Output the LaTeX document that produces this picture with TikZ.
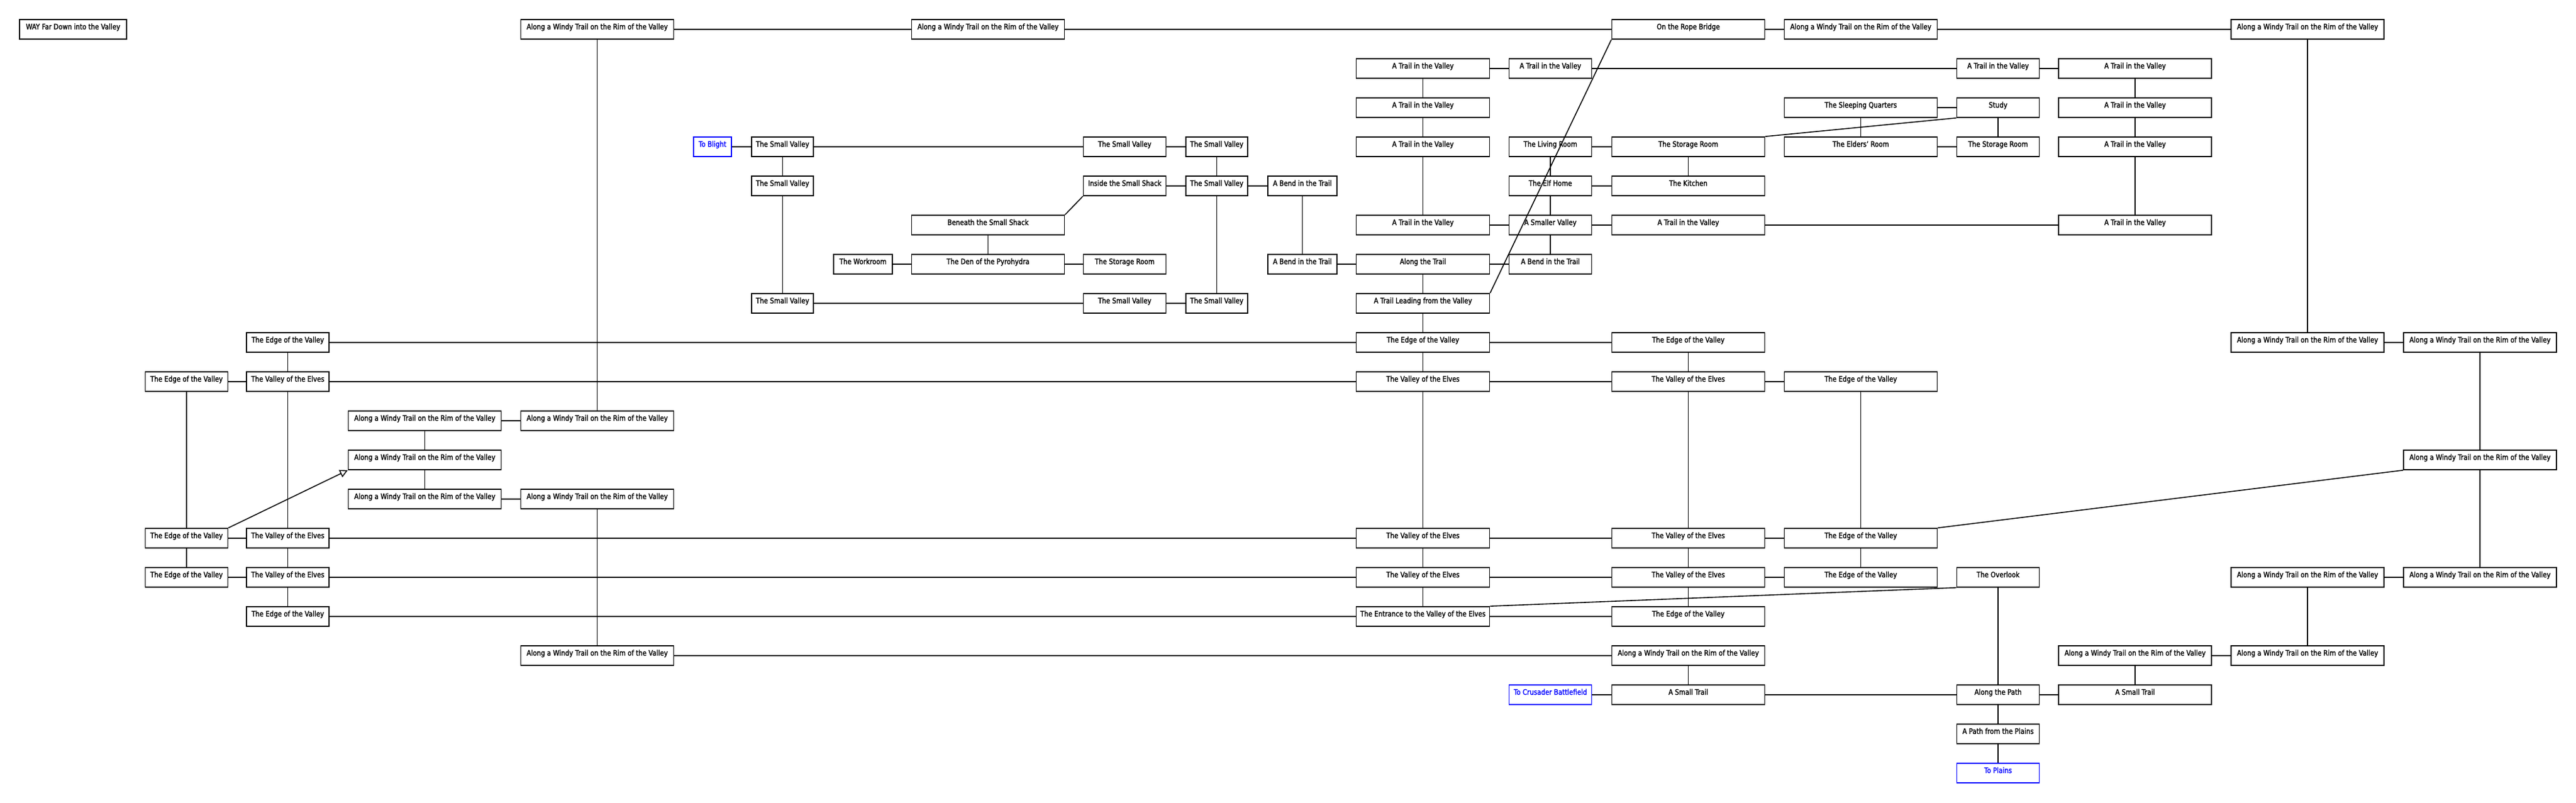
\documentclass[tikz,border=0pt]{standalone}
\usepackage{fontspec}
\setmainfont{DejaVu Sans}[FakeStretch=0.85, FakeBold=1.6, UprightFeatures={FakeBold=1.6}]
\usetikzlibrary{arrows.meta}

\begin{document}
\begin{tikzpicture}[x=1pt, y=-64pt, line width=1.6pt]
  \tikzset{ room/.style={draw, line width=1.7pt, inner sep=0pt, text height=16pt, text depth=16pt, font=\fontsize{12.4}{14}\selectfont},
    exit/.style={room, draw=blue, text=blue},
    w250/.style={room, minimum width=250pt},
    w218/.style={room, minimum width=218pt},
    w135/.style={room, minimum width=135pt},
    w101/.style={room, minimum width=101pt},
  }
  \useasboundingbox (0,-0.75) rectangle (4212,19.75);

  % row 0
  \node[room, minimum width=175pt] (way) at (119.5,0) {WAY Far Down into the Valley};
  \node[w250] (rimA) at (976.5,0) {Along a Windy Trail on the Rim of the Valley};
  \node[w250] (rimB) at (1615.5,0) {Along a Windy Trail on the Rim of the Valley};
  \node[w250] (rope) at (2760.5,0) {On the Rope Bridge};
  \node[w250] (rimC) at (3042.5,0) {Along a Windy Trail on the Rim of the Valley};
  \node[w250] (rimD) at (3773,0) {Along a Windy Trail on the Rim of the Valley};

  % rows 1 and 2
  \node[w218] (tP1) at (2326.6,1) {A Trail in the Valley};
  \node[w135] (tQ1) at (2535,1) {A Trail in the Valley};
  \node[w135] (tT1) at (3267,1) {A Trail in the Valley};
  \node[w250] (tU1) at (3491,1) {A Trail in the Valley};
  \node[w218] (tP2) at (2326.6,2) {A Trail in the Valley};
  \node[w250] (sleep) at (3042.5,2) {The Sleeping Quarters};
  \node[w135] (study) at (3267,2) {Study};
  \node[w250] (tU2) at (3491,2) {A Trail in the Valley};

  % row 3
  \node[exit, minimum width=62pt] (blight) at (1165,3) {To Blight};
  \node[w101] (svA) at (1279.5,3) {The Small Valley};
  \node[w135] (svB) at (1839,3) {The Small Valley};
  \node[w101] (svC) at (1989.5,3) {The Small Valley};
  \node[w218] (tP3) at (2326.6,3) {A Trail in the Valley};
  \node[w135] (living) at (2535,3) {The Living Room};
  \node[w250] (storeR) at (2760.5,3) {The Storage Room};
  \node[w250] (elders) at (3042.5,3) {The Elders' Room};
  \node[w135] (storeT) at (3267,3) {The Storage Room};
  \node[w250] (tU3) at (3491,3) {A Trail in the Valley};

  % row 4
  \node[w101] (svA4) at (1279.5,4) {The Small Valley};
  \node[w135] (shack) at (1839,4) {Inside the Small Shack};
  \node[w101] (svC4) at (1989.5,4) {The Small Valley};
  \node[room, minimum width=113pt] (bend4) at (2129.5,4) {A Bend in the Trail};
  \node[w135] (elfhome) at (2535,4) {The Elf Home};
  \node[w250] (kitchen) at (2760.5,4) {The Kitchen};

  % row 5
  \node[w250] (beneath) at (1615.5,5) {Beneath the Small Shack};
  \node[w218] (tP5) at (2326.6,5) {A Trail in the Valley};
  \node[w135] (smaller) at (2535,5) {A Smaller Valley};
  \node[w250] (tR5) at (2760.5,5) {A Trail in the Valley};
  \node[w250] (tU5) at (3491,5) {A Trail in the Valley};

  % row 6
  \node[room, minimum width=96pt] (work) at (1411,6) {The Workroom};
  \node[w250] (den) at (1615.5,6) {The Den of the Pyrohydra};
  \node[w135] (storeN) at (1839,6) {The Storage Room};
  \node[room, minimum width=113pt] (bend6) at (2129.5,6) {A Bend in the Trail};
  \node[w218] (along) at (2326.6,6) {Along the Trail};
  \node[w135] (bendQ) at (2535,6) {A Bend in the Trail};

  % row 7
  \node[w101] (svA7) at (1279.5,7) {The Small Valley};
  \node[w135] (svB7) at (1839,7) {The Small Valley};
  \node[w101] (svC7) at (1989.5,7) {The Small Valley};
  \node[w218] (leading) at (2326.6,7) {A Trail Leading from the Valley};

  % rows 8 and 9
  \node[w135] (edgeE8) at (470.5,8) {The Edge of the Valley};
  \node[w218] (edgeP8) at (2326.6,8) {The Edge of the Valley};
  \node[w250] (edgeR8) at (2760.5,8) {The Edge of the Valley};
  \node[w250] (rimV8) at (3773,8) {Along a Windy Trail on the Rim of the Valley};
  \node[w250] (rimW8) at (4055,8) {Along a Windy Trail on the Rim of the Valley};
  \node[w135] (edgeL9) at (305,9) {The Edge of the Valley};
  \node[w135] (elvesE9) at (470.5,9) {The Valley of the Elves};
  \node[w218] (elvesP9) at (2326.6,9) {The Valley of the Elves};
  \node[w250] (elvesR9) at (2760.5,9) {The Valley of the Elves};
  \node[w250] (edgeS9) at (3042.5,9) {The Edge of the Valley};

  % rows 10 to 12
  \node[w250] (rim1) at (694.5,10) {Along a Windy Trail on the Rim of the Valley};
  \node[w250] (rim2) at (976.5,10) {Along a Windy Trail on the Rim of the Valley};
  \node[w250] (rim3) at (694.5,11) {Along a Windy Trail on the Rim of the Valley};
  \node[w250] (rimW11) at (4055,11) {Along a Windy Trail on the Rim of the Valley};
  \node[w250] (rim4) at (694.5,12) {Along a Windy Trail on the Rim of the Valley};
  \node[w250] (rim5) at (976.5,12) {Along a Windy Trail on the Rim of the Valley};

  % rows 13 to 15
  \node[w135] (edgeL13) at (305,13) {The Edge of the Valley};
  \node[w135] (elvesE13) at (470.5,13) {The Valley of the Elves};
  \node[w218] (elvesP13) at (2326.6,13) {The Valley of the Elves};
  \node[w250] (elvesR13) at (2760.5,13) {The Valley of the Elves};
  \node[w250] (edgeS13) at (3042.5,13) {The Edge of the Valley};
  \node[w135] (edgeL14) at (305,14) {The Edge of the Valley};
  \node[w135] (elvesE14) at (470.5,14) {The Valley of the Elves};
  \node[w218] (elvesP14) at (2326.6,14) {The Valley of the Elves};
  \node[w250] (elvesR14) at (2760.5,14) {The Valley of the Elves};
  \node[w250] (edgeS14) at (3042.5,14) {The Edge of the Valley};
  \node[w135] (overlook) at (3267,14) {The Overlook};
  \node[w250] (rimV14) at (3773,14) {Along a Windy Trail on the Rim of the Valley};
  \node[w250] (rimW14) at (4055,14) {Along a Windy Trail on the Rim of the Valley};
  \node[w135] (edgeE15) at (470.5,15) {The Edge of the Valley};
  \node[w218] (entrance) at (2326.6,15) {The Entrance to the Valley of the Elves};
  \node[w250] (edgeR15) at (2760.5,15) {The Edge of the Valley};

  % rows 16 to 19
  \node[w250] (rim6) at (976.5,16) {Along a Windy Trail on the Rim of the Valley};
  \node[w250] (rimR16) at (2760.5,16) {Along a Windy Trail on the Rim of the Valley};
  \node[w250] (rimU16) at (3491,16) {Along a Windy Trail on the Rim of the Valley};
  \node[w250] (rimV16) at (3773,16) {Along a Windy Trail on the Rim of the Valley};
  \node[exit, minimum width=135pt] (crusader) at (2535,17) {To Crusader Battlefield};
  \node[w250] (smallR) at (2760.5,17) {A Small Trail};
  \node[w135] (path) at (3267,17) {Along the Path};
  \node[w250] (smallU) at (3491,17) {A Small Trail};
  \node[w135] (plainsPath) at (3267,18) {A Path from the Plains};
  \node[exit, minimum width=135pt] (plains) at (3267,19) {To Plains};

  % the trails along the top
  \draw (rimA) -- (rimB) -- (rope) -- (rimC) -- (rimD);
  \draw (tP1) -- (tQ1) -- (tT1) -- (tU1);
  \draw (tP1) -- (tP2) -- (tP3) -- (tP5);
  \draw (tU1) -- (tU2) -- (tU3) -- (tU5);
  \draw (sleep) -- (study) -- (storeT) -- (elders) -- (sleep);
  \draw (living) -- (storeR) -- (kitchen) -- (elfhome) -- (living);
  \draw (elfhome) -- (smaller) -- (bendQ);
  \draw (tP5) -- (smaller) -- (tR5) -- (tU5);
  \draw (storeR.north east) -- (study.south west);

  % the small valley and the shack
  \draw (blight) -- (svA) -- (svB) -- (svC) -- (svC4) -- (svC7) -- (svB7) -- (svA7) -- (svA4) -- (svA);
  \draw (shack) -- (svC4) -- (bend4) -- (bend6) -- (along) -- (bendQ);
  \draw (shack.south west) -- (beneath.north east);
  \draw (beneath) -- (den);
  \draw (work) -- (den) -- (storeN);

  % the valley of the elves
  \draw (along) -- (leading) -- (edgeP8) -- (elvesP9) -- (elvesP13) -- (elvesP14) -- (entrance);
  \draw (leading.north east) -- (rope.south west);
  \draw (edgeE8) -- (edgeP8) -- (edgeR8) -- (elvesR9) -- (elvesR13) -- (elvesR14) -- (edgeR15);
  \draw (edgeL9) -- (elvesE9) -- (elvesP9) -- (elvesR9) -- (edgeS9) -- (edgeS13) -- (edgeS14);
  \draw (edgeE8) -- (elvesE9) -- (elvesE13) -- (elvesE14) -- (edgeE15) -- (entrance) -- (edgeR15);
  \draw (edgeL9) -- (edgeL13) -- (edgeL14) -- (elvesE14) -- (elvesP14) -- (elvesR14) -- (edgeS14);
  \draw (edgeL13) -- (elvesE13) -- (elvesP13) -- (elvesR13) -- (edgeS13);
  \draw (edgeS13.north east) -- (rimW11.south west);
  \draw (entrance.north east) -- (overlook.south west);
  \draw[-{Triangle[open, length=13pt, width=13pt]}] (edgeL13.north east) -- (rim3.south west);

  % the rim of the valley
  \draw (rimA) -- (rim2) -- (rim1) -- (rim3) -- (rim4) -- (rim5) -- (rim6) -- (rimR16) -- (smallR) -- (crusader);
  \draw (smallR) -- (path) -- (smallU) -- (rimU16) -- (rimV16) -- (rimV14) -- (rimW14) -- (rimW11) -- (rimW8) -- (rimV8) -- (rimD);
  \draw (overlook) -- (path) -- (plainsPath) -- (plains);
\end{tikzpicture}
\end{document}
